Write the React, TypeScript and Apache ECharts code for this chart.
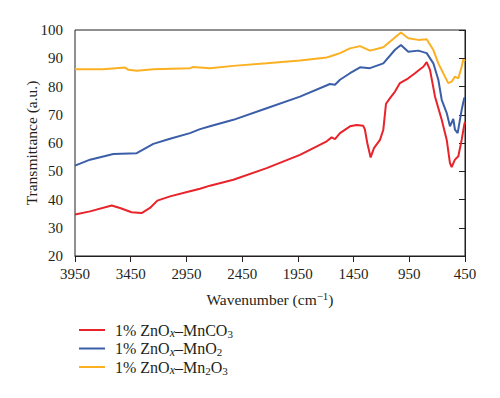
import React, { useEffect, useRef } from "react";
import * as echarts from "echarts";

// Wavenumbers (cm^-1) and transmittance values
const redWavenumbers = [3950, 3815, 3621, 3546, 3442, 3352, 3277, 3211, 3097, 2918, 2828, 2739, 2529, 2230, 1931, 1691, 1647, 1617, 1572, 1482, 1422, 1363, 1348, 1327, 1297, 1267, 1213, 1183, 1159, 1123, 1078, 1034, 959, 899, 854, 824, 794, 764, 719, 659, 614, 585, 570, 540, 510, 480, 457, 450];
const redValues = [34.7, 35.8, 37.9, 37.0, 35.5, 35.2, 37.0, 39.6, 41.1, 42.9, 43.8, 44.9, 47.0, 51.1, 55.8, 60.6, 62.0, 61.4, 63.5, 65.9, 66.4, 66.1, 64.7, 60.0, 54.9, 58.2, 61.1, 64.7, 73.9, 75.9, 78.2, 81.2, 82.9, 84.7, 86.1, 87.0, 88.6, 85.9, 76.4, 68.2, 61.1, 52.9, 51.5, 54.1, 55.3, 61.1, 66.4, 67.5];

const blueWavenumbers = [3950, 3815, 3606, 3396, 3352, 3247, 3097, 2918, 2828, 2739, 2529, 2230, 1931, 1662, 1617, 1572, 1482, 1392, 1303, 1183, 1078, 1025, 959, 869, 794, 734, 689, 659, 614, 585, 555, 540, 516, 480, 457, 450];
const blueValues = [52.0, 54.1, 56.1, 56.4, 57.4, 59.7, 61.5, 63.5, 64.9, 65.9, 68.2, 72.3, 76.4, 80.9, 80.6, 82.4, 84.7, 86.8, 86.5, 88.2, 93.0, 94.7, 92.3, 92.7, 91.8, 88.2, 82.3, 75.3, 70.6, 65.9, 68.5, 64.7, 63.5, 71.7, 75.9, 76.0];

const orangeWavenumbers = [3950, 3696, 3501, 3470, 3396, 3247, 2918, 2888, 2739, 2529, 2230, 1931, 1691, 1662, 1572, 1482, 1392, 1303, 1183, 1063, 1025, 959, 869, 794, 734, 689, 630, 600, 570, 540, 510, 480, 465, 450];
const orangeValues = [86.1, 86.1, 86.7, 85.9, 85.6, 86.1, 86.5, 86.9, 86.5, 87.3, 88.2, 89.2, 90.3, 90.6, 91.8, 93.5, 94.3, 92.7, 93.9, 97.9, 99.1, 97.1, 96.5, 96.7, 92.9, 88.2, 83.5, 81.2, 81.7, 83.5, 82.9, 87.0, 89.6, 89.0];

const seriesNames = ["1% ZnOx–MnCO3", "1% ZnOx–MnO2", "1% ZnOx–Mn2O3"];
const legendRich = [
  "{n|1% ZnO}{s|x}{n|–MnCO}{d|3}",
  "{n|1% ZnO}{s|x}{n|–MnO}{d|2}",
  "{n|1% ZnO}{s|x}{n|–Mn}{d|2}{n|O}{d|3}",
];
const seriesColors = ["#e8232a", "#3b5ea8", "#fbb022"];

const xTickOffset = 450; // axis starts at 450 cm^-1
const xMaxWavenumber = 3950;
const xInterval = 500;
const yMin = 20;
const yMax = 100;
const yInterval = 10;

const FONT = "Liberation Serif";
const AXIS = "#231f20";

export default function App() {
  const ref = useRef<HTMLDivElement>(null);
  useEffect(() => {
    if (!ref.current) return;
    const chart = echarts.init(ref.current, undefined, { renderer: "svg" });
    const toData = (w: number[], v: number[]) => w.map((x, i) => [x - xTickOffset, v[i]]);
    const datasets = [
      toData(redWavenumbers, redValues),
      toData(blueWavenumbers, blueValues),
      toData(orangeWavenumbers, orangeValues),
    ];
    chart.setOption({
      animation: false,
      textStyle: { fontFamily: FONT, color: AXIS },
      grid: {
        left: 75,
        right: 35,
        top: 30,
        bottom: 142,
        show: true,
        borderColor: AXIS,
        borderWidth: 1,
        containLabel: false,
      },
      legend: {
        orient: "vertical",
        left: 74,
        top: 317,
        itemWidth: 26,
        itemHeight: 2,
        itemGap: 1.5,
        icon: "rect",
        data: seriesNames,
        formatter: (name: string) => legendRich[seriesNames.indexOf(name)],
        textStyle: {
          fontFamily: FONT,
          color: AXIS,
          padding: [0, 0, 0, 5],
          rich: {
            n: { fontFamily: FONT, fontSize: 16, lineHeight: 18, color: AXIS },
            s: { fontFamily: FONT, fontSize: 12, fontStyle: "italic", lineHeight: 9, verticalAlign: "bottom", color: AXIS },
            d: { fontFamily: FONT, fontSize: 11, lineHeight: 9, verticalAlign: "bottom", color: AXIS },
          },
        },
      },
      xAxis: {
        type: "value",
        inverse: true,
        min: 0,
        max: xMaxWavenumber - xTickOffset,
        interval: xInterval,
        name: "{a|Wavenumber (cm}{b|−1}{a|)}",
        nameLocation: "middle",
        nameGap: 34,
        nameMoveOverlap: false,
        nameTextStyle: {
          rich: {
            a: { fontFamily: FONT, fontSize: 15.5, lineHeight: 18, color: AXIS },
            b: { fontFamily: FONT, fontSize: 11, lineHeight: 10, verticalAlign: "top", color: AXIS },
          },
        },
        axisLine: { show: true, lineStyle: { color: AXIS, width: 1 } },
        axisTick: { show: true, length: 6, lineStyle: { color: AXIS } },
        axisLabel: {
          margin: 10,
          fontSize: 15,
          fontFamily: FONT,
          color: AXIS,
          formatter: (v: number) => String(v + xTickOffset),
        },
        splitLine: { show: false },
      },
      yAxis: {
        type: "value",
        min: yMin,
        max: yMax,
        interval: yInterval,
        name: "Transmittance (a.u.)",
        nameLocation: "middle",
        nameGap: 36,
        nameRotate: 90,
        nameMoveOverlap: false,
        nameTextStyle: { fontFamily: FONT, fontSize: 15.5, color: AXIS },
        axisLine: { show: true, lineStyle: { color: AXIS, width: 1 } },
        axisTick: { show: true, length: 6, lineStyle: { color: AXIS } },
        axisLabel: { margin: 12, fontSize: 15, fontFamily: FONT, color: AXIS },
        splitLine: { show: false },
      },
      series: seriesNames.map((name, i) => ({
        name,
        type: "line",
        data: datasets[i],
        showSymbol: false,
        symbol: "none",
        color: seriesColors[i],
        lineStyle: { width: 2, color: seriesColors[i] },
      })),
    });
    return () => chart.dispose();
  }, []);
  return (
    <div
      ref={ref}
      style={{ position: "absolute", left: 0, top: 0, width: 500, height: 398, background: "#fff" }}
    />
  );
}
